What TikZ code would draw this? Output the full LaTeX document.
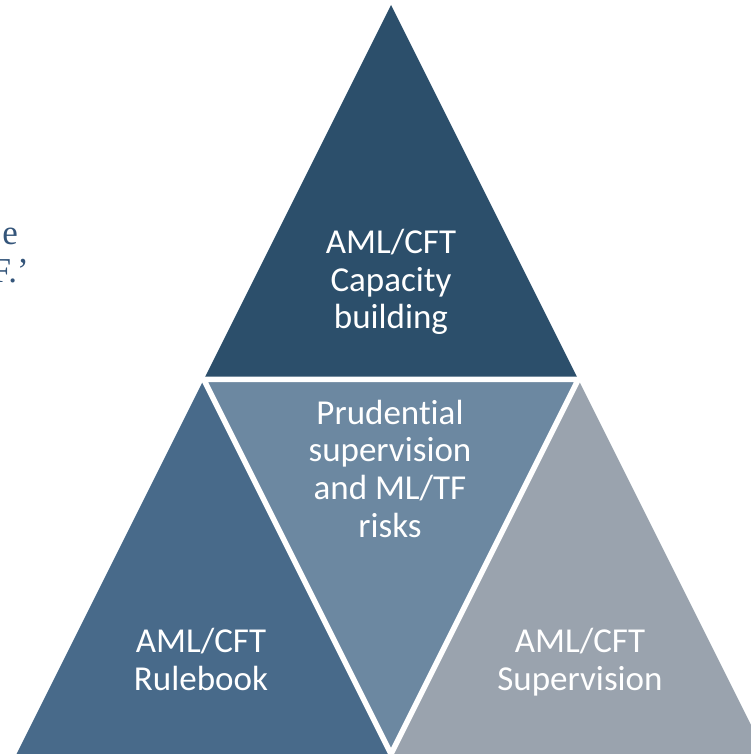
\documentclass[tikz,border=0pt]{standalone}
\usepackage{fontspec}
\setmainfont{Carlito}[Ligatures=NoCommon]
\newfontfamily\sideserif{Liberation Serif}
\usetikzlibrary{calc}
\definecolor{topc}{HTML}{2C4F6B}
\definecolor{leftc}{HTML}{486A8A}
\definecolor{midc}{HTML}{6C88A1}
\definecolor{rightc}{HTML}{9AA3AE}
\definecolor{sidec}{HTML}{34557A}
\begin{document}
\begin{tikzpicture}[x=1pt,y=1pt,
  lbl/.style={text=white, align=center, inner sep=0pt, font=\fontsize{35}{37.8}\selectfont},
  sidetxt/.style={text=sidec, inner sep=0pt, font=\sideserif\fontsize{35}{38}\selectfont},
  gap/.style={draw=white, line width=5.5pt, line join=miter}]
\useasboundingbox (0,0) rectangle (751,754);
\coordinate (A) at (391,749);
\coordinate (BL) at (16.5,0);
\coordinate (BR) at (765.5,0);
\coordinate (ML) at (203.75,374.5);
\coordinate (MR) at (578.25,374.5);
\coordinate (MB) at (391,0);
\fill[topc] (A) -- (ML) -- (MR) -- cycle;
\fill[leftc] (ML) -- (BL) -- (MB) -- cycle;
\fill[midc] (ML) -- (MR) -- (MB) -- cycle;
\fill[rightc] (MR) -- (MB) -- (BR) -- cycle;
\draw[gap] (ML) -- (MR) -- (MB) -- cycle;
\node[lbl, anchor=base] (cap) at (391,425) {AML/CFT\\Capacity\\building};
\node[lbl, anchor=base] (pru) at (390,216.5) {Prudential\\supervision\\and ML/TF\\risks};
\node[lbl, anchor=base] (rule) at (201,63.5) {AML/CFT\\Rulebook};
\node[lbl, anchor=base] (sup) at (580,63.5) {AML/CFT\\Supervision};
\node[sidetxt, anchor=base east] (se) at (18,509) {e};
\node[sidetxt, anchor=base east] (sf) at (29,471) {F.’};
\end{tikzpicture}
\end{document}
